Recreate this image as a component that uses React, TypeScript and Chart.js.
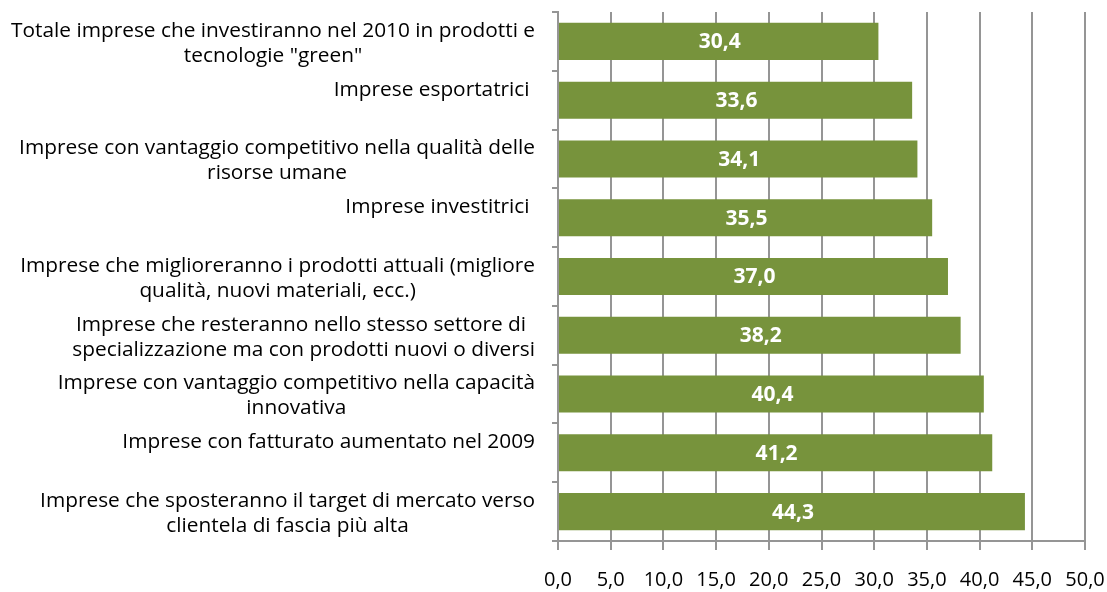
import React, { useEffect, useRef } from "react";
import { Chart, registerables } from "chart.js";

Chart.register(...registerables);

const categories: string[][] = [
  ["Totale imprese che investiranno nel 2010 in prodotti e", "tecnologie \"green\""],
  ["Imprese esportatrici ", ""],
  ["Imprese con vantaggio competitivo nella qualità delle", "risorse umane"],
  ["Imprese investitrici ", ""],
  ["Imprese che miglioreranno i prodotti attuali (migliore", "qualità, nuovi materiali, ecc.)"],
  ["Imprese che resteranno nello stesso settore di ", "specializzazione ma con prodotti nuovi o diversi"],
  ["Imprese con vantaggio competitivo nella capacità", "innovativa"],
  ["Imprese con fatturato aumentato nel 2009", ""],
  ["Imprese che sposteranno il target di mercato verso", "clientela di fascia più alta"],
];

const values: number[] = [30.4, 33.6, 34.1, 35.5, 37.0, 38.2, 40.4, 41.2, 44.3];

const xMin = 0;
const xMax = 50;
const xStep = 5;

const FONT = "'Open Sans', 'Noto Sans', sans-serif";
const GRID = "#959595";
const BAR = "#77933c";

const fmt = (v: number) => Number(v).toFixed(1).replace(".", ",");

const labelPlugin = {
  id: "catLabels",
  afterDraw(chart: any) {
    const ctx = chart.ctx as CanvasRenderingContext2D;
    const yScale = chart.scales.y;
    ctx.save();
    ctx.font = `19px ${FONT}`;
    const w0 = ctx.measureText(categories[0][0]).width;
    const size = Math.min(22, Math.max(14, (19 * 524) / w0));
    ctx.font = `${size.toFixed(2)}px ${FONT}`;
    ctx.fillStyle = "#000";
    ctx.textBaseline = "middle";
    ctx.textAlign = "center";
    const right = chart.chartArea.left - 23;
    const lh = 25;
    categories.forEach((lines, i) => {
      const cy = yScale.getPixelForValue(i) + 2;
      const widest = Math.max(...lines.map((l) => ctx.measureText(l).width));
      const cx = right - widest / 2;
      const top = cy - ((lines.length - 1) * lh) / 2;
      lines.forEach((l, j) => ctx.fillText(l, cx, top + j * lh));
    });
    const meta = chart.getDatasetMeta(0);
    ctx.font = `bold 21px ${FONT}`;
    ctx.fillStyle = "#fff";
    meta.data.forEach((bar: any, i: number) => {
      const p = bar.getProps(["x", "y", "base"], true);
      ctx.fillText(fmt(values[i]), (p.x + p.base) / 2 + 1, p.y + 1);
    });
    ctx.restore();
  },
};

export default function App() {
  const ref = useRef<HTMLCanvasElement | null>(null);
  useEffect(() => {
    if (!ref.current) return;
    const chart = new Chart(ref.current, {
      type: "bar",
      data: {
        labels: categories.map((l) => l.join(" ").trim()),
        datasets: [
          {
            data: values,
            backgroundColor: BAR,
            borderWidth: 0,
            barPercentage: 0.63,
            categoryPercentage: 1,
          },
        ],
      },
      options: {
        indexAxis: "y",
        responsive: false,
        animation: false,
        layout: { padding: { top: 12, left: 0, right: 0, bottom: 0 } },
        plugins: {
          legend: { display: false },
          tooltip: { enabled: false },
        },
        scales: {
          x: {
            min: xMin,
            max: xMax,
            grid: { color: GRID, lineWidth: 2, drawTicks: true, tickLength: 9 },
            border: { display: true, color: GRID, width: 2 },
            ticks: {
              stepSize: xStep,
              autoSkip: false,
              maxRotation: 0,
              padding: 18,
              color: "#000",
              font: { family: FONT, size: 20 },
              callback: (v: any) => fmt(Number(v)),
            },
            afterFit: (s: any) => {
              s.height = 51;
              s.paddingRight = 22;
            },
          },
          y: {
            type: "category",
            offset: true,
            grid: {
              display: true,
              drawOnChartArea: false,
              drawTicks: true,
              tickLength: 6,
              offset: true,
              color: GRID,
              lineWidth: 2,
            },
            border: { display: true, color: GRID, width: 2 },
            ticks: { display: false },
            afterFit: (s: any) => {
              s.width = 558;
            },
          },
        },
      },
      plugins: [labelPlugin],
    } as any);
    return () => chart.destroy();
  }, []);
  return (
    <div style={{ position: "fixed", left: 0, top: 0, width: 1107, height: 592, background: "#fff" }}>
      <canvas ref={ref} width={1107} height={592} />
    </div>
  );
}
